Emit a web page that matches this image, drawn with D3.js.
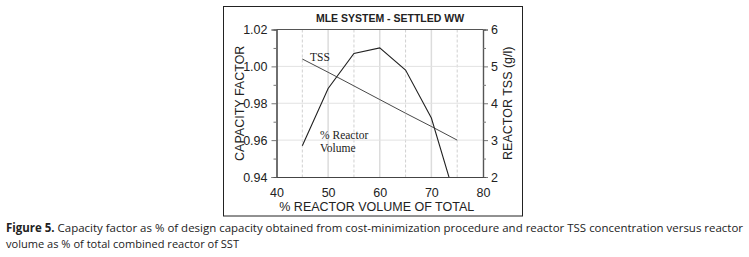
<!DOCTYPE html>
<html><head><meta charset="utf-8">
<script src="https://cdn.jsdelivr.net/npm/d3@7"></script>
<style>body{margin:0;background:#fff;} svg{display:block;}</style>
</head><body>
<svg id="c" width="749" height="257"></svg>
<script>
const xVals = [45, 50, 55, 60, 65, 70, 75];
const capacity = [0.957, 0.988, 1.007, 1.010, 0.998, 0.972, 0.925];
const tss = [5.2, 4.84, 4.47, 4.1, 3.73, 3.37, 3.0];
const xTicks = [40, 50, 60, 70, 80];
const yTicks = [0.94, 0.96, 0.98, 1.00, 1.02];
const y2Ticks = [2, 3, 4, 5, 6];
const title = "MLE SYSTEM - SETTLED WW";
const xTitle = "% REACTOR VOLUME OF TOTAL";
const yTitle = "CAPACITY FACTOR";
const y2Title = "REACTOR TSS (g/l)";

const svg = d3.select("#c");
const L = 276.5, R = 483, T = 29.5, B = 177;
const x = d3.scaleLinear().domain([40, 80]).range([L, R]);
const y = d3.scaleLinear().domain([0.94, 1.02]).range([B, T]);
const y2 = d3.scaleLinear().domain([2, 6]).range([B, T]);

// outer frame
svg.append("rect").attr("x", 223.5).attr("y", 6.5).attr("width", 299).attr("height", 209.5)
  .attr("fill", "none").attr("stroke", "#222").attr("stroke-width", 1);

// gridlines
const g = svg.append("g");
[50, 60, 70].forEach(v => g.append("line").attr("x1", x(v)).attr("x2", x(v)).attr("y1", T).attr("y2", B)
  .attr("stroke", "#dcdcdc").attr("stroke-width", 1.5));
[45, 55, 65, 75].forEach(v => g.append("line").attr("x1", x(v)).attr("x2", x(v)).attr("y1", T).attr("y2", B)
  .attr("stroke", "#d0d0d0").attr("stroke-width", 1).attr("stroke-dasharray", "3,2"));
[0.96, 0.98, 1.00].forEach(v => g.append("line").attr("x1", L).attr("x2", R).attr("y1", y(v)).attr("y2", y(v))
  .attr("stroke", "#e2e2e2").attr("stroke-width", 1));

const font = "Arial, 'Liberation Sans', sans-serif";

// axes
const axL = svg.append("g").attr("transform", `translate(${L},0)`)
  .call(d3.axisLeft(y).tickValues(yTicks).tickFormat(d3.format(".2f")).tickSize(5).tickPadding(4));
const axLm = svg.append("g").attr("transform", `translate(${L},0)`)
  .call(d3.axisLeft(y).tickValues([0.95, 0.97, 0.99, 1.01]).tickFormat("").tickSize(3));
const axR = svg.append("g").attr("transform", `translate(${R},0)`)
  .call(d3.axisRight(y2).tickValues(y2Ticks).tickFormat(d3.format("d")).tickSize(5).tickPadding(3));
const axRm = svg.append("g").attr("transform", `translate(${R},0)`)
  .call(d3.axisRight(y2).tickValues([2.5, 3.5, 4.5, 5.5]).tickFormat("").tickSize(3));
const axB = svg.append("g").attr("transform", `translate(0,${B})`)
  .call(d3.axisBottom(x).tickValues(xTicks).tickSize(0).tickPadding(11));
[axL, axLm, axR, axRm, axB].forEach(a => {
  a.select(".domain").attr("stroke", "#555").attr("stroke-width", 1.2);
  a.selectAll(".tick line").attr("stroke", "#777");
  a.selectAll("text").attr("font-family", font).attr("font-size", 12.5).attr("fill", "#222");
});
axB.select(".domain").attr("stroke", "#444");
svg.append("line").attr("x1", L).attr("x2", R).attr("y1", T).attr("y2", T).attr("stroke", "#555").attr("stroke-width", 1.2);

// clip
svg.append("clipPath").attr("id", "pc").append("rect").attr("x", L).attr("y", T).attr("width", R - L).attr("height", B - T);

const line1 = d3.line().x((d, i) => x(xVals[i])).y(d => y(d));
const line2 = d3.line().x((d, i) => x(xVals[i])).y(d => y2(d));
svg.append("path").datum(capacity).attr("d", line1).attr("clip-path", "url(#pc)")
  .attr("fill", "none").attr("stroke", "#222").attr("stroke-width", 1.1);
svg.append("path").datum(tss).attr("d", line2).attr("clip-path", "url(#pc)")
  .attr("fill", "none").attr("stroke", "#333").attr("stroke-width", 0.9);

// labels
const serif = "'Times New Roman', 'Liberation Serif', serif";
svg.append("text").attr("x", 310).attr("y", 61).attr("font-family", serif).attr("font-size", 11.5).attr("fill", "#222").text("TSS");
svg.append("text").attr("x", 320).attr("y", 139).attr("font-family", serif).attr("font-size", 11.5).attr("fill", "#222").text("% Reactor");
svg.append("text").attr("x", 320).attr("y", 152).attr("font-family", serif).attr("font-size", 11.5).attr("fill", "#222").text("Volume");

svg.append("text").attr("x", 390).attr("y", 22).attr("text-anchor", "middle").attr("font-family", font)
  .attr("font-weight", "bold").attr("font-size", 10.5).attr("fill", "#222").text(title);
svg.append("text").attr("x", (L + R) / 2 - 3).attr("y", 211).attr("text-anchor", "middle").attr("font-family", font)
  .attr("font-size", 12.5).attr("fill", "#222").text(xTitle);
svg.append("text").attr("transform", `translate(244,${(T + B) / 2}) rotate(-90)`).attr("text-anchor", "middle")
  .attr("font-family", font).attr("font-size", 12.5).attr("fill", "#222").text(yTitle);
svg.append("text").attr("transform", `translate(512,${(T + B) / 2}) rotate(-90)`).attr("text-anchor", "middle")
  .attr("font-family", font).attr("font-size", 12.5).attr("fill", "#222").text(y2Title);

// caption
const cap = svg.append("text").attr("x", 6).attr("y", 232).attr("font-family", "'Open Sans', 'Noto Sans', sans-serif")
  .attr("font-size", 11.5).attr("fill", "#222").attr("textLength", 737).attr("lengthAdjust", "spacingAndGlyphs");
cap.append("tspan").attr("font-weight", "bold").text("Figure 5.");
cap.append("tspan").text(" Capacity factor as % of design capacity obtained from cost-minimization procedure and reactor TSS concentration versus reactor");
svg.append("text").attr("x", 6).attr("y", 248).attr("font-family", "'Open Sans', 'Noto Sans', sans-serif")
  .attr("font-size", 11.5).attr("fill", "#222").attr("textLength", 233).attr("lengthAdjust", "spacingAndGlyphs")
  .text("volume as % of total combined reactor of SST");
</script>
</body></html>
